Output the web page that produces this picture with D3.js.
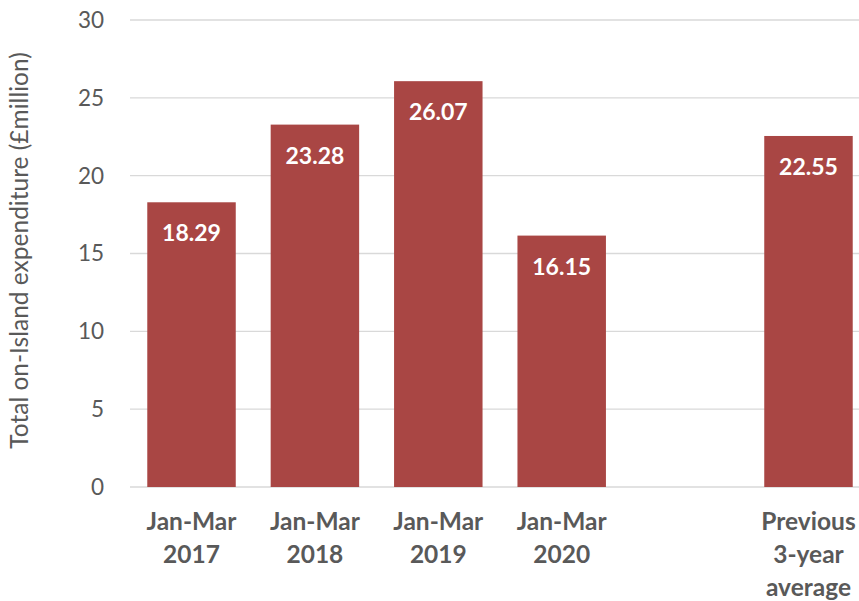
<!DOCTYPE html>
<html>
<head>
<meta charset="utf-8">
<script src="https://cdn.jsdelivr.net/npm/d3@7"></script>
<style>
  body { margin: 0; background: #fff; }
  svg { font-family: Lato, "Open Sans", sans-serif; }
</style>
</head>
<body>
<div id="chart"></div>
<script>
// categories and values
var categories = ["2017", "2018", "2019", "2020", "gap", "avg"];
var catLabels = [["Jan-Mar", "2017"], ["Jan-Mar", "2018"], ["Jan-Mar", "2019"], ["Jan-Mar", "2020"], [], ["Previous", "3-year", "average"]];
var values = [18.29, 23.28, 26.07, 16.15, null, 22.55];
var yTicks = [0, 5, 10, 15, 20, 25, 30];

var width = 859, height = 601;
var barColor = "#A94644";
var textColor = "#595959";

var svg = d3.select("#chart")
    .append("svg")
    .attr("width", width)
    .attr("height", height);

var x = d3.scaleBand()
    .domain(categories)
    .range([130, 870])
    .paddingInner(0.283)
    .paddingOuter(0.14);

var y = d3.scaleLinear()
    .domain([0, 30])
    .range([487, 20]);

// gridlines
svg.append("g")
    .selectAll("line")
    .data(yTicks)
    .enter().append("line")
    .attr("x1", 130)
    .attr("x2", width)
    .attr("y1", d => y(d))
    .attr("y2", d => y(d))
    .attr("stroke", "#d9d9d9")
    .attr("stroke-width", 1.3);

// y tick labels
svg.append("g")
    .selectAll("text")
    .data(yTicks)
    .enter().append("text")
    .attr("x", 104)
    .attr("y", d => y(d))
    .attr("dy", "0.35em")
    .attr("text-anchor", "end")
    .attr("fill", textColor)
    .style("font-size", "22.5px")
    .text(d => d);

// y axis title
svg.append("text")
    .attr("transform", "translate(28," + (y(15) - 3) + ") rotate(-90)")
    .attr("text-anchor", "middle")
    .attr("fill", textColor)
    .style("font-size", "24.5px")
    .text("Total on-Island expenditure (£million)");

var data = categories.map((c, i) => ({ cat: c, value: values[i], label: catLabels[i] }));
var bars = data.filter(d => d.value !== null);

svg.append("g")
    .selectAll("rect")
    .data(bars)
    .enter().append("rect")
    .attr("x", d => x(d.cat))
    .attr("width", x.bandwidth())
    .attr("y", d => y(d.value))
    .attr("height", d => y(0) - y(d.value))
    .attr("fill", barColor);

// data labels inside end
svg.append("g")
    .selectAll("text")
    .data(bars)
    .enter().append("text")
    .attr("x", d => x(d.cat) + x.bandwidth() / 2)
    .attr("y", d => y(d.value) + 31)
    .attr("dy", "0.35em")
    .attr("text-anchor", "middle")
    .attr("fill", "#fff")
    .style("font-size", "23px")
    .style("font-weight", "bold")
    .text(d => d.value.toFixed(2));

// category labels
var cl = svg.append("g")
    .selectAll("text")
    .data(data)
    .enter().append("text")
    .attr("text-anchor", "middle")
    .attr("fill", textColor)
    .style("font-size", "24.5px")
    .style("font-weight", "bold");

cl.selectAll("tspan")
    .data(d => d.label.map(l => ({ cat: d.cat, text: l })))
    .enter().append("tspan")
    .attr("x", d => x(d.cat) + x.bandwidth() / 2)
    .attr("y", (d, i) => 521 + i * 33)
    .attr("dy", "0.35em")
    .text(d => d.text);
</script>
</body>
</html>
